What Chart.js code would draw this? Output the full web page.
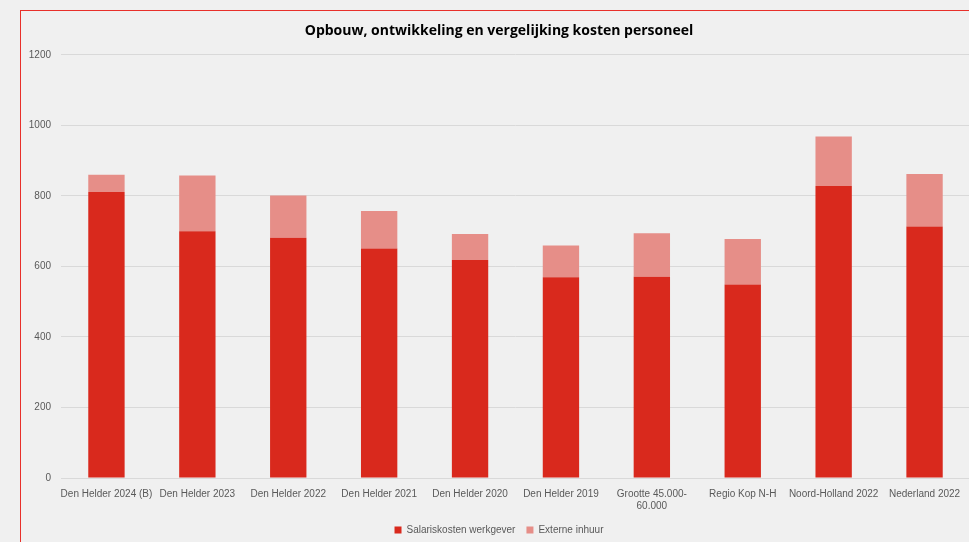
<!DOCTYPE html>
<html>
<head>
<meta charset="utf-8">
<script src="https://cdn.jsdelivr.net/npm/chart.js@4"></script>
<style>
  html, body { margin: 0; padding: 0; background: #f0f0f0; overflow: hidden; }
  #frame { position: absolute; left: 20px; top: 10px; width: 1000px; height: 600px; border: 1px solid #e8302a; }
  #wrap { position: absolute; left: 0; top: 0; width: 962px; height: 534px; }
</style>
</head>
<body>
<div id="frame"><div id="wrap"><canvas id="kosten"></canvas></div></div>
<script>
const categories = [
  'Den Helder 2024 (B)', 'Den Helder 2023', 'Den Helder 2022', 'Den Helder 2021',
  'Den Helder 2020', 'Den Helder 2019', ['Grootte 45.000-', '60.000'],
  'Regio Kop N-H', 'Noord-Holland 2022', 'Nederland 2022'
];
const salariskosten = [811, 700, 681, 651, 618, 569, 571, 549, 828, 713];
const externeInhuur = [49, 158, 120, 106, 74, 90, 123, 129, 140, 149];
const yTicks = { min: 0, max: 1200, step: 200 };

const grey = '#595959';
const ctx = document.getElementById('kosten').getContext('2d');
new Chart(ctx, {
  type: 'bar',
  data: {
    labels: categories,
    datasets: [
      {
        label: 'Salariskosten werkgever',
        data: salariskosten,
        backgroundColor: '#d9291d'
      },
      {
        label: 'Externe inhuur',
        data: externeInhuur,
        backgroundColor: '#e68e88'
      }
    ]
  },
  options: {
    responsive: true,
    maintainAspectRatio: false,
    animation: false,
    layout: { padding: { left: 7, right: 13, top: 0, bottom: 0 } },
    datasets: { bar: { categoryPercentage: 1, barPercentage: 0.4 } },
    scales: {
      x: {
        stacked: true,
        grid: { display: false },
        border: { color: '#d9d9d9' },
        ticks: {
          color: grey,
          font: { family: 'Liberation Sans Narrow, Liberation Sans', size: 10 },
          maxRotation: 0,
          autoSkip: false,
          padding: 2
        }
      },
      y: {
        stacked: true,
        min: yTicks.min,
        max: yTicks.max,
        afterFit: axis => { axis.width = 33; },
        grid: { color: '#d9d9d9', drawTicks: false },
        border: { display: false },
        ticks: {
          stepSize: yTicks.step,
          color: grey,
          padding: 10,
          font: { family: 'Liberation Sans', size: 10 },
          callback: v => String(v)
        }
      }
    },
    plugins: {
      title: {
        display: true,
        text: 'Opbouw, ontwikkeling en vergelijking kosten personeel',
        color: '#000',
        font: { family: 'Open Sans', size: 14, weight: 'bold' },
        padding: { top: 12, bottom: 15 }
      },
      legend: {
        position: 'bottom',
        labels: {
          color: grey,
          boxWidth: 7,
          boxHeight: 7,
          padding: 11,
          font: { family: 'Liberation Sans Narrow, Liberation Sans', size: 10 }
        }
      },
      tooltip: { enabled: false }
    }
  }
});
</script>
</body>
</html>
